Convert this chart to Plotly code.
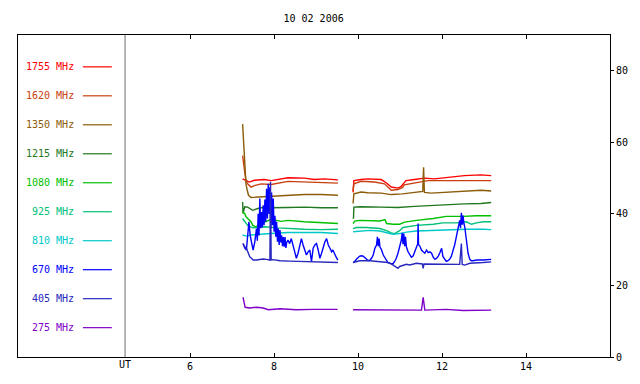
import plotly.graph_objects as go

# ---------------- data (hours UT, flux) ----------------
freq_labels = ["1755 MHz", "1620 MHz", "1350 MHz", "1215 MHz", "1080 MHz",
               "925 MHz", "810 MHz", "670 MHz", "405 MHz", "275 MHz"]
colors = ["#ff0000", "#c84010", "#8c5c08", "#207820", "#00c000",
          "#00c078", "#00c8c8", "#0000ff", "#2828c0", "#8000c8"]

t_1755 = [7.25, 7.33, 7.41, 7.53, 7.77, 7.93, 8.25, 8.33, 8.72, 8.96, 9.20, 9.52, None,
          9.88, 9.90, 10.07, 10.23, 10.55, 10.63, 10.67, 10.79, 10.95, 11.02, 11.10, 11.14,
          11.34, 11.58, 11.82, 12.14, 12.53, 12.93, 13.17]
v_1755 = [49.8, 49.3, 48.9, 49.4, 49.6, 49.3, 49.8, 50.1, 50.0, 49.6, 49.8, 49.5, None,
          46.0, 49.3, 49.6, 49.8, 49.6, 49.0, 48.7, 47.5, 47.2, 47.6, 48.7, 49.3,
          49.6, 50.0, 49.8, 50.3, 50.7, 50.9, 50.7]

t_1620 = [7.25, 7.27, 7.30, 7.33, 7.37, 7.45, 7.53, 7.69, 7.93, 8.33, 8.72, 9.12, 9.52, None,
          9.88, 9.90, 10.07, 10.39, 10.63, 10.79, 10.95, 11.06, 11.10, 11.34, 11.66, 12.14,
          12.53, 12.93, 13.17]
v_1620 = [56.3, 53.5, 51.7, 49.3, 48.4, 47.5, 47.9, 48.4, 48.2, 49.1, 48.9, 48.9, 48.6, None,
          46.5, 48.4, 49.1, 48.9, 48.4, 46.6, 46.8, 47.4, 48.1, 48.7, 49.3, 49.3,
          49.3, 49.5, 49.3]

t_1350 = [7.25, 7.27, 7.29, 7.31, 7.33, 7.36, 7.39, 7.45, 7.61, 7.93, 8.33, 8.72, 9.12, 9.52, None,
          9.88, 9.90, 10.07, 10.23, 10.55, 10.79, 11.06, 11.34, 11.54, 11.56, 11.58, 11.74,
          12.14, 12.53, 12.93, 13.17]
v_1350 = [65.1, 60.9, 56.3, 51.7, 48.4, 46.6, 45.2, 44.6, 44.7, 44.9, 45.2, 45.4, 45.4, 45.2, None,
          42.9, 45.6, 46.1, 45.9, 45.8, 45.4, 45.6, 46.1, 46.3, 53.0, 46.0, 45.8,
          46.1, 46.4, 46.6, 46.4]

t_1215 = [7.25, 7.26, 7.30, 7.37, 7.49, 7.61, 7.77, 7.93, 8.33, 8.72, 9.12, 9.52, None,
          9.88, 9.89, 9.90, 10.07, 10.55, 10.95, 11.34, 11.74, 12.14, 12.53, 12.93, 13.17]
v_1215 = [43.3, 40.1, 42.0, 41.9, 41.0, 41.5, 41.9, 41.7, 41.8, 41.9, 41.7, 41.7, None,
          38.9, 38.7, 41.9, 42.0, 41.9, 41.8, 42.1, 42.4, 42.7, 42.8, 42.9, 43.2]

t_1080 = [7.25, 7.30, 7.33, 7.37, 7.45, 7.49, 7.57, 7.65, 7.77, 7.93, 8.17, 8.33, 8.72, 9.12, 9.52, None,
          9.88, 9.92, 10.04, 10.28, 10.52, 10.64, 10.68, 10.83, 10.99, 11.11, 11.23, 11.39,
          11.79, 12.02, 12.10, 12.50, 12.82, 13.17]
v_1080 = [40.6, 40.1, 39.2, 38.7, 37.8, 36.8, 36.4, 37.1, 37.8, 38.5, 37.9, 38.2, 37.8, 37.6, 37.3, None,
          37.3, 38.0, 38.2, 38.2, 38.0, 38.4, 37.3, 37.1, 37.1, 37.7, 38.0, 38.2,
          38.7, 39.0, 39.3, 39.3, 39.5, 39.5]

t_925 = [7.25, 7.30, 7.37, 7.49, 7.77, 8.09, 8.33, 8.72, 9.12, 9.52, None,
         9.88, 9.96, 10.20, 10.52, 10.68, 10.79, 10.87, 10.99, 11.07, 11.23, 11.39, 11.79,
         12.02, 12.34, 12.58, 12.70, 12.82, 12.98, 13.17]
v_925 = [38.7, 37.8, 36.8, 36.1, 36.4, 36.1, 35.9, 35.7, 35.6, 35.7, None,
         35.9, 36.2, 36.2, 35.9, 35.3, 34.7, 34.5, 35.3, 36.2, 36.6, 36.8, 37.1,
         37.5, 37.5, 37.8, 37.1, 37.5, 37.8, 37.8]

t_810 = [7.25, 7.33, 7.45, 7.61, 7.93, 8.33, 8.72, 9.12, 9.52, None,
         9.88, 10.04, 10.28, 10.52, 10.68, 10.83, 10.99, 11.15, 11.39, 11.79, 12.18, 12.58,
         12.98, 13.17]
v_810 = [34.1, 33.8, 34.1, 34.3, 34.5, 34.8, 34.8, 34.8, 34.5, None,
         35.0, 35.2, 35.4, 35.2, 34.7, 34.3, 34.5, 34.9, 35.2, 35.4, 35.6, 35.7,
         35.7, 35.6]

t_670 = [7.26, 7.30, 7.34, 7.38, 7.40, 7.43, 7.46, 7.50, 7.54, 7.56, 7.58, 7.60, 7.62, 7.64,
         7.66, 7.68, 7.70, 7.72, 7.74, 7.76, 7.78, 7.80, 7.82, 7.84, 7.86, 7.88, 7.90, 7.92,
         7.94, 7.96, 7.98, 8.00, 8.02, 8.04, 8.06, 8.08, 8.10, 8.12, 8.14, 8.16, 8.18, 8.20,
         8.22, 8.24, 8.26, 8.28, 8.30, 8.33, 8.37, 8.41, 8.45, 8.49, 8.53, 8.57, 8.61, 8.65,
         8.69, 8.73, 8.77, 8.81, 8.85, 8.89, 8.93, 8.97, 9.01, 9.05, 9.09, 9.13, 9.17, 9.21,
         9.25, 9.29, 9.33, 9.37, 9.40, 9.45, 9.49, 9.52, None,
         9.88, 9.92, 9.96, 10.00, 10.04, 10.08, 10.12, 10.16, 10.20, 10.24, 10.28, 10.32,
         10.36, 10.40, 10.44, 10.46, 10.48, 10.50, 10.52, 10.56, 10.60, 10.64, 10.68, 10.71,
         10.75, 10.79, 10.83, 10.87, 10.91, 10.95, 10.99, 11.03, 11.05, 11.07, 11.09, 11.11,
         11.13, 11.15, 11.19, 11.23, 11.27, 11.31, 11.35, 11.39, 11.42, 11.43, 11.44, 11.47,
         11.51, 11.55, 11.59, 11.63, 11.67, 11.71, 11.75, 11.79, 11.83, 11.87, 11.91, 11.95,
         11.99, 12.02, 12.06, 12.10, 12.14, 12.18, 12.22, 12.26, 12.30, 12.34, 12.38, 12.42,
         12.44, 12.46, 12.48, 12.50, 12.52, 12.54, 12.58, 12.62, 12.66, 12.70, 12.74, 12.82,
         12.98, 13.14, 13.17]
v_670 = [31.7, 30.5, 29.9, 36.8, 37.8, 34.0, 32.0, 29.9, 32.2, 33.5, 35.9, 32.5, 40.0, 34.0,
         44.3, 36.0, 40.5, 36.2, 42.4, 36.8, 44.0, 37.8, 47.0, 38.7, 48.4, 40.0, 47.5, 35.9,
         46.0, 36.8, 44.3, 35.0, 39.5, 33.6, 37.8, 32.2, 35.9, 31.3, 35.5, 32.0, 34.0, 31.0,
         33.5, 30.8, 33.5, 30.5, 32.0, 32.7, 31.7, 33.1, 31.3, 29.4, 27.6, 29.0, 31.3, 33.1,
         31.3, 29.9, 28.5, 29.4, 29.9, 26.7, 30.4, 31.3, 31.7, 29.9, 27.6, 29.0, 30.8, 32.2,
         33.1, 31.3, 30.4, 29.4, 29.9, 28.5, 27.6, 27.1, None,
         26.4, 26.7, 27.3, 27.9, 28.2, 28.3, 28.2, 27.8, 27.3, 26.9, 27.1, 27.6,
         28.5, 30.4, 31.3, 33.6, 31.0, 33.1, 30.8, 29.9, 28.5, 27.6, 27.1, 26.4,
         26.2, 26.0, 26.0, 26.7, 27.6, 29.0, 30.8, 32.7, 34.7, 31.5, 34.5, 31.0,
         33.6, 30.8, 29.4, 28.5, 27.9, 28.2, 29.4, 30.8, 31.6, 37.3, 31.4, 31.0,
         29.9, 29.4, 29.0, 29.9, 29.2, 29.4, 29.0, 27.9, 27.3, 27.6, 28.2, 29.2,
         30.4, 28.1, 27.2, 26.7, 26.9, 27.3, 28.1, 29.4, 31.3, 33.6, 35.9, 38.2,
         36.0, 40.3, 37.0, 39.5, 37.3, 36.4, 32.7, 29.0, 27.3, 26.9, 26.9, 27.1,
         27.1, 27.3, 27.3]

t_405 = [7.26, 7.30, 7.34, 7.38, 7.42, 7.46, 7.50, 7.58, 7.66, 7.74, 7.82, 7.90, 7.914, 7.93,
         7.98, 8.14, 8.37, 8.77, 8.93, 9.17, 9.52, None,
         9.88, 10.04, 10.28, 10.44, 10.60, 10.71, 10.79, 10.87, 10.95, 10.99, 11.07, 11.15,
         11.23, 11.31, 11.39, 11.53, 11.55, 11.57, 11.71, 11.87, 12.18, 12.42, 12.46, 12.48,
         12.54, 12.66, 12.98, 13.17]
v_405 = [31.7, 30.8, 30.4, 29.0, 28.0, 27.6, 27.1, 27.1, 27.3, 27.4, 27.3, 27.1, 49.0, 27.1,
         27.2, 26.9, 26.8, 26.6, 26.5, 26.4, 26.4, None,
         26.4, 26.9, 26.9, 26.7, 26.6, 26.4, 26.0, 25.3, 24.8, 25.3, 25.7, 25.9,
         25.7, 26.0, 26.2, 26.0, 24.8, 26.0, 26.0, 26.0, 26.0, 25.9, 31.7, 25.9,
         25.7, 26.2, 26.4, 26.6]

t_275 = [7.26, 7.27, 7.29, 7.31, 7.42, 7.58, 7.74, 7.86, 8.14, 8.53, 8.93, 9.33, 9.51, None,
         9.88, 10.52, 10.80, 11.51, 11.55, 11.59, 12.10, 12.50, 13.17]
v_275 = [16.7, 16.0, 14.6, 13.9, 13.7, 13.9, 13.7, 13.2, 13.5, 13.2, 13.3, 13.2, 13.3, None,
         13.2, 13.2, 13.0, 13.1, 16.7, 13.1, 13.3, 13.0, 13.1]

series_t = [t_1755, t_1620, t_1350, t_1215, t_1080, t_925, t_810, t_670, t_405, t_275]
series_v = [v_1755, v_1620, v_1350, v_1215, v_1080, v_925, v_810, v_670, v_405, v_275]

x_ticks = [6, 8, 10, 12, 14]
y_ticks = [0, 20, 40, 60, 80]
title_text = "10 02 2006"
ut_hour = 4.45

# ---------------- figure ----------------
FONT = "DejaVu Sans Mono"
X_RANGE = [1.9, 16.0]
Y_RANGE = [0, 90]

fig = go.Figure()
for t, v, c, name in zip(series_t, series_v, colors, freq_labels):
    fig.add_trace(go.Scatter(x=t, y=v, mode="lines", name=name,
                             line=dict(color=c, width=1.4), connectgaps=False,
                             hoverinfo="skip", showlegend=False))

# hand-made legend on the left
for i, (name, c) in enumerate(zip(freq_labels, colors)):
    ly = 81.1 - 8.1 * i
    fig.add_annotation(x=3.28, y=ly, xref="x", yref="y", text=name, showarrow=False,
                       xanchor="right", yanchor="middle",
                       font=dict(family=FONT, size=10, color=c))
    fig.add_shape(type="line", x0=3.445, x1=4.135, y0=ly, y1=ly, xref="x", yref="y",
                  line=dict(color=c, width=1.2))

# UT divider line
fig.add_shape(type="line", x0=ut_hour, x1=ut_hour, y0=0, y1=1, xref="x", yref="paper",
              line=dict(color="#707070", width=1))

# secondary x axis used only for the "UT" label
fig.add_trace(go.Scatter(x=[ut_hour], y=[None], xaxis="x2", yaxis="y",
                         mode="markers", showlegend=False, hoverinfo="skip"))

fig.update_layout(
    width=640, height=384,
    margin=dict(l=18, r=30, t=35, b=25),
    paper_bgcolor="white", plot_bgcolor="white",
    font=dict(family=FONT, size=10, color="black"),
    title=dict(text=title_text, x=0.49, xanchor="center", y=1 - 18.5 / 384,
               yanchor="middle", font=dict(family=FONT, size=10, color="black")),
    xaxis=dict(range=X_RANGE, tickvals=x_ticks, ticktext=[str(v) for v in x_ticks],
               ticks="inside", ticklen=4, tickcolor="black", showgrid=False,
               zeroline=False, showline=True, linecolor="black", linewidth=1,
               mirror="ticks", tickfont=dict(family=FONT, size=10, color="black")),
    xaxis2=dict(range=X_RANGE, overlaying="x", side="bottom", anchor="y",
                tickvals=[ut_hour], ticktext=["UT"], ticks="", showgrid=False,
                zeroline=False, showline=False,
                tickfont=dict(family=FONT, size=10, color="black")),
    yaxis=dict(range=Y_RANGE, side="right", tickvals=y_ticks,
               ticks="outside", ticklen=3, tickcolor="black", showgrid=False,
               zeroline=False, showline=True, linecolor="black", linewidth=1,
               mirror=True, tickfont=dict(family=FONT, size=10, color="black")),
    showlegend=False,
)

# remove the default page margin so the 640x384 figure fills the window exactly
fig.write_html("out.html",
               config={"displayModeBar": False, "staticPlot": True},
               post_script="document.body.style.margin='0';document.body.style.overflow='hidden';")
